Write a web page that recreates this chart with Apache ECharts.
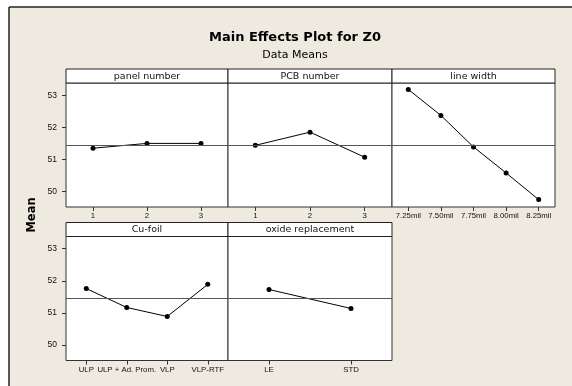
<!DOCTYPE html>
<html>
<head>
<meta charset="utf-8">
<script src="https://cdn.jsdelivr.net/npm/echarts@6/dist/echarts.min.js"></script>
<style>
html,body{margin:0;padding:0;background:#fff;}
#chart{width:572px;height:386px;}
</style>
</head>
<body>
<div id="chart"></div>
<script>
// ---- data ----
const TITLE = 'Main Effects Plot for Z0';
const SUBTITLE = 'Data Means';
const Y_NAME = 'Mean';
const FACTORS = ['panel number', 'PCB number', 'line width', 'Cu-foil', 'oxide replacement'];
const PANEL_LEVELS = ['1', '2', '3'];
const PANEL_MEANS = [51.35, 51.50, 51.50];
const PCB_LEVELS = ['1', '2', '3'];
const PCB_MEANS = [51.44, 51.85, 51.07];
const LINEWIDTH_LEVELS = ['7.25mil', '7.50mil', '7.75mil', '8.00mil', '8.25mil'];
const LINEWIDTH_MEANS = [53.18, 52.37, 51.39, 50.58, 49.75];
const CUFOIL_LEVELS = ['ULP', 'ULP + Ad. Prom.', 'VLP', 'VLP-RTF'];
const CUFOIL_MEANS = [51.76, 51.17, 50.89, 51.89];
const OXIDE_LEVELS = ['LE', 'STD'];
const OXIDE_MEANS = [51.73, 51.14];
const GRAND_MEAN = 51.45;
const Y_TICKS = [50, 51, 52, 53];

const LEVELS = [PANEL_LEVELS, PCB_LEVELS, LINEWIDTH_LEVELS, CUFOIL_LEVELS, OXIDE_LEVELS];
const MEANS = [PANEL_MEANS, PCB_MEANS, LINEWIDTH_MEANS, CUFOIL_MEANS, OXIDE_MEANS];

// ---- layout ----
const BOXES = [
  {left: 66, top: 83, width: 162, height: 124},
  {left: 228, top: 83, width: 164, height: 124},
  {left: 392, top: 83, width: 163, height: 124},
  {left: 66, top: 236.5, width: 162, height: 124},
  {left: 228, top: 236.5, width: 164, height: 124}
];
const HEADER_H = 14;
const Y_MIN = 49.52, Y_MAX = 53.38;
const BG = '#EEEAE0';
const LABEL_FONT = '"Liberation Sans", Arial, sans-serif';
const HEAD_FONT = '"DejaVu Sans", Verdana, sans-serif';

const grids = [], xAxes = [], yAxes = [], series = [], graphics = [];

// outer white margin and frame lines
graphics.push({type: 'rect', shape: {x: 0, y: 0, width: 9, height: 386}, style: {fill: '#fff'}, silent: true});
graphics.push({type: 'rect', shape: {x: 0, y: 0, width: 572, height: 7}, style: {fill: '#fff'}, silent: true});
graphics.push({type: 'line', shape: {x1: 9, y1: 7, x2: 572, y2: 7}, style: {stroke: '#222', lineWidth: 1.5}, silent: true});
graphics.push({type: 'line', shape: {x1: 9, y1: 7, x2: 9, y2: 386}, style: {stroke: '#222', lineWidth: 1.5}, silent: true});

BOXES.forEach(function (b, i) {
  const isLeft = (i === 0 || i === 3);
  grids.push({left: b.left, top: b.top, width: b.width, height: b.height,
    show: true, backgroundColor: '#fff', borderColor: '#333', borderWidth: 1});
  xAxes.push({
    gridIndex: i, type: 'category', data: LEVELS[i], boundaryGap: true,
    axisLine: {show: false},
    axisTick: {show: true, alignWithLabel: true, length: 4, lineStyle: {color: '#333'}},
    axisLabel: {interval: 0, hideOverlap: false, fontFamily: LABEL_FONT, fontSize: 7.8, color: '#111', margin: 5},
    splitLine: {show: false}
  });
  yAxes.push({
    gridIndex: i, type: 'value', min: Y_MIN, max: Y_MAX,
    axisLine: {show: false},
    axisTick: {show: isLeft, length: 4, customValues: Y_TICKS, lineStyle: {color: '#333'}},
    axisLabel: {show: isLeft, customValues: Y_TICKS, fontFamily: LABEL_FONT, fontSize: 8.5, color: '#111', margin: 9},
    splitLine: {show: false}
  });
  series.push({
    type: 'line', xAxisIndex: i, yAxisIndex: i, data: MEANS[i],
    symbol: 'circle', symbolSize: 5, showSymbol: true,
    itemStyle: {color: '#000'}, lineStyle: {color: '#000', width: 1},
    animation: false,
    markLine: {silent: true, symbol: 'none', label: {show: false},
      lineStyle: {color: '#555', width: 1.2, type: 'solid'},
      data: [{yAxis: GRAND_MEAN}]}
  });
  // header strip
  graphics.push({type: 'rect', shape: {x: b.left, y: b.top - HEADER_H, width: b.width, height: HEADER_H},
    style: {fill: '#fff', stroke: '#222', lineWidth: 1}, silent: true});
  graphics.push({type: 'text', x: b.left + b.width / 2, y: b.top - HEADER_H / 2 + 0.5,
    style: {text: FACTORS[i], fill: '#111', font: '9.5px ' + HEAD_FONT, textAlign: 'center', textVerticalAlign: 'middle'},
    silent: true});
});

const option = {
  backgroundColor: BG,
  animation: false,
  title: [
    {text: TITLE, left: 290, top: 26, textAlign: 'center',
      textStyle: {fontFamily: HEAD_FONT, fontWeight: 'bold', fontSize: 13, color: '#000'}},
    {text: SUBTITLE, left: 290, top: 45, textAlign: 'center',
      textStyle: {fontFamily: HEAD_FONT, fontWeight: 'normal', fontSize: 11, color: '#000'}}
  ],
  grid: grids, xAxis: xAxes, yAxis: yAxes, series: series,
  graphic: graphics.concat([
    {type: 'text', x: 32, y: 215, rotation: Math.PI / 2,
      style: {text: Y_NAME, fill: '#000', font: 'bold 11.5px ' + HEAD_FONT, textAlign: 'center', textVerticalAlign: 'middle'},
      silent: true}
  ])
};

const chart = echarts.init(document.getElementById('chart'), null, {renderer: 'canvas'});
chart.setOption(option);
</script>
</body>
</html>
